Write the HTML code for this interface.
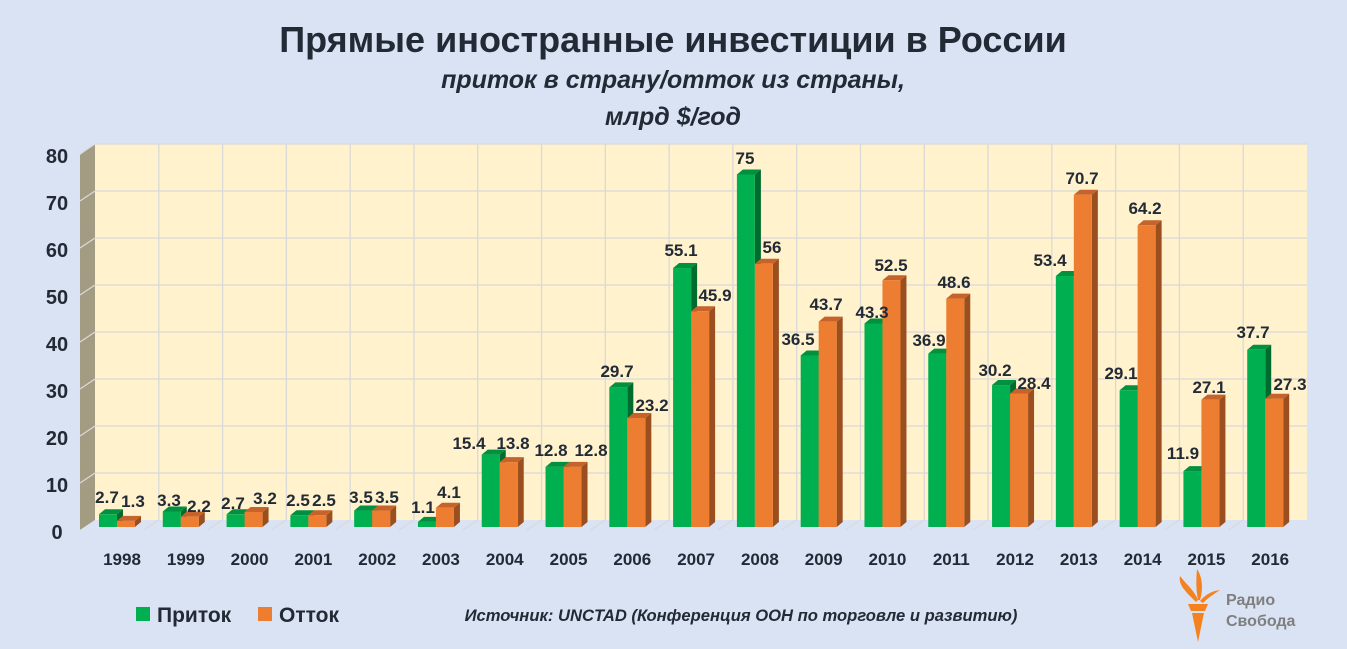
<!DOCTYPE html>
<html><head><meta charset="utf-8"><style>
body{margin:0;width:1347px;height:644px;background:#dae3f3;overflow:hidden;font-family:"Liberation Sans",sans-serif}
</style></head><body>
<svg id="s" width="1347" height="644" xmlns="http://www.w3.org/2000/svg" font-family="Liberation Sans, sans-serif">
<rect width="1347" height="644" fill="#dae3f3"/>
<text x="673" y="52" text-anchor="middle" font-size="36" font-weight="bold" fill="#222a35">Прямые иностранные инвестиции в России</text>
<text x="673" y="88" text-anchor="middle" font-size="25" font-weight="bold" font-style="italic" fill="#222a35">приток в страну/отток из страны,</text>
<text x="673" y="125" text-anchor="middle" font-size="25" font-weight="bold" font-style="italic" fill="#222a35">млрд $/год</text>
<rect x="95" y="144" width="1212" height="376" fill="#fff2cc"/>
<polygon points="80,155 95,144 95,520 80,530" fill="#a39c82"/>
<polygon points="80,530 95,520 1307,520 1292,530" fill="#dae3f3"/>
<g id="grid" stroke="#d9d9d9" stroke-width="1.3"></g>
<g id="bars"></g>
<g id="lab" font-size="17" font-weight="bold" fill="#222a35" text-anchor="middle"></g>
<rect x="136" y="607" width="14" height="14" fill="#00b050"/>
<text x="157" y="622" font-size="21" font-weight="bold" fill="#222a35">Приток</text>
<rect x="258" y="607" width="14" height="14" fill="#ed7d31"/>
<text x="279" y="622" font-size="21" font-weight="bold" fill="#222a35">Отток</text>
<text x="741" y="621" text-anchor="middle" font-size="16.6" font-weight="bold" font-style="italic" fill="#222a35">Источник: UNCTAD (Конференция ООН по торговле и развитию)</text>
<g fill="#f58220">
<path d="M1188,604 L1208,604 L1205,611 L1191,611 Z"/>
<path d="M1192,613 L1204,613 L1198,642 Z"/>
<path d="M1196,602 C1186,592 1178,585 1180,576 C1186,584 1194,590 1198,600 Z"/>
<path d="M1198,600 C1196,590 1196,580 1197,569 C1203,578 1203,590 1200,600 Z"/>
<path d="M1200,601 C1206,594 1212,591 1220,590 C1212,595 1207,599 1203,603 Z"/>
</g>
<text x="1226" y="605" font-size="16" font-weight="bold" fill="#7f7f7f">Радио</text>
<text x="1226" y="626" font-size="16" font-weight="bold" fill="#7f7f7f">Свобода</text>
<g id="ax" font-size="20" font-weight="bold" fill="#222a35"></g>
</svg>
<script>
var NS="http://www.w3.org/2000/svg";
function el(p,t,a,txt){var e=document.createElementNS(NS,t);for(var k in a)e.setAttribute(k,a[k]);if(txt!=null)e.textContent=txt;document.getElementById(p).appendChild(e);}
var cw=(1307-95)/19;
for(var v=0;v<=80;v+=10){var y=520-v*4.7;
 if(v>0){el("grid","line",{x1:95,y1:y,x2:1307,y2:y});el("grid","line",{x1:80,y1:y+10,x2:95,y2:y});}
 el("ax","text",{x:57,y:539-v*4.7,"text-anchor":"middle"},String(v));}
for(var i=1;i<19;i++){var x=95+i*cw;el("grid","line",{x1:x,y1:144,x2:x,y2:520});el("grid","line",{x1:x,y1:520,x2:x-15,y2:530});}
var years=["1998","1999","2000","2001","2002","2003","2004","2005","2006","2007","2008","2009","2010","2011","2012","2013","2014","2015","2016"];
var g=["2.7","3.3","2.7","2.5","3.5","1.1","15.4","12.8","29.7","55.1","75","36.5","43.3","36.9","30.2","53.4","29.1","11.9","37.7"];
var o=["1.3","2.2","3.2","2.5","3.5","4.1","13.8","12.8","23.2","45.9","56","43.7","52.5","48.6","28.4","70.7","64.2","27.1","27.3"];
var gl=[[107,497],[169,500],[233,503],[298,500],[361,497],[423,507],[469,443],[551,450],[617,371],[681,250],[745,158],[798,339],[872,312],[929,340],[995,370],[1050,260],[1121,373],[1183,453],[1253,332]];
var ol=[[133,501],[199,506],[265,498],[324,500],[387,497],[449,492],[513,443],[591,450],[652,405],[715,295],[772,247],[826,304],[891,265],[954,282],[1034,383],[1082,178],[1145,208],[1209,387],[1290,384]];
function bar(x,v,c1,c2,c3){var b=527,t=b-v*4.7,w=18,dx=6,dy=5;
 el("bars","polygon",{points:[x+w,t,x+w+dx,t-dy,x+w+dx,b-dy,x+w,b].join(","),fill:c3});
 el("bars","polygon",{points:[x,t,x+dx,t-dy,x+w+dx,t-dy,x+w,t].join(","),fill:c2});
 el("bars","rect",{x:x,y:t,width:w,height:v*4.7,fill:c1});}
for(var i=0;i<19;i++){var cl=95+i*cw;
 bar(cl+4,+g[i],"#00b050","#009040","#006b2f");
 bar(cl+22,+o[i],"#ed7d31","#c5632a","#9c4f1e");
 el("lab","text",{x:gl[i][0],y:gl[i][1]+6},g[i]);
 el("lab","text",{x:ol[i][0],y:ol[i][1]+6},o[i]);
 el("ax","text",{x:cl+27,y:565,"text-anchor":"middle","font-size":"17"},years[i]);}
</script>
</body></html>
